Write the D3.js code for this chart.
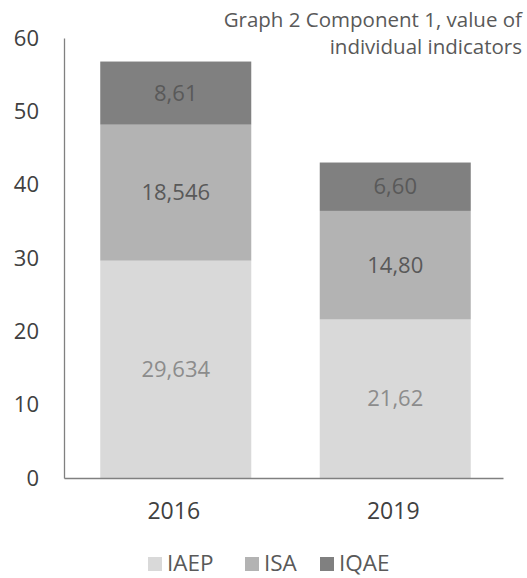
<!DOCTYPE html>
<html>
<head>
<meta charset="utf-8">
<script src="https://cdn.jsdelivr.net/npm/d3@7"></script>
<style>
  body { margin: 0; background: #fff; }
  text { font-family: "Open Sans", sans-serif; }
</style>
</head>
<body>
<div id="chart"></div>
<script>
// data
const years = ["2016", "2019"];
const series = ["IAEP", "ISA", "IQAE"];
const iaep = [29.634, 21.62];
const isa = [18.546, 14.80];
const iqae = [8.61, 6.60];
// labels as printed on the bars
const iaepLabels = ["29,634", "21,62"];
const isaLabels = ["18,546", "14,80"];
const iqaeLabels = ["8,61", "6,60"];
const yTicks = [0, 10, 20, 30, 40, 50, 60];
const titleLines = ["Graph 2 Component 1, value of", "individual indicators"];

const W = 527, H = 578;
const margin = {top: 38, right: 24, bottom: 100, left: 64};
const width = W - margin.left - margin.right,
      height = H - margin.top - margin.bottom;
const fs = 22;

const svg = d3.select("#chart")
  .append("svg")
    .attr("width", W)
    .attr("height", H)
  .append("g")
    .attr("transform", `translate(${margin.left},${margin.top})`);

const color = d3.scaleOrdinal()
  .domain(series)
  .range(["#d9d9d9", "#b3b3b3", "#808080"]);
const labelColor = {IAEP: "#8c8c8c", ISA: "#595959", IQAE: "#595959"};

const rows = years.map((yr, i) => ({year: yr, IAEP: iaep[i], ISA: isa[i], IQAE: iqae[i]}));
const labels = {IAEP: iaepLabels, ISA: isaLabels, IQAE: iqaeLabels};

const stacked = d3.stack().keys(series)(rows);

const x = d3.scaleBand()
  .domain(years)
  .range([0, width])
  .paddingInner(0.312)
  .paddingOuter(0.156);

const y = d3.scaleLinear()
  .domain([0, 60])
  .range([height, 0]);

// bars
const layer = svg.append("g")
  .selectAll("g")
  .data(stacked)
  .join("g")
    .attr("fill", d => color(d.key));

layer.selectAll("rect")
  .data(d => d)
  .join("rect")
    .attr("x", d => x(d.data.year) + 2)
    .attr("y", d => y(d[1]))
    .attr("height", d => y(d[0]) - y(d[1]))
    .attr("width", x.bandwidth());

// value labels
stacked.forEach(s => {
  svg.append("g")
    .selectAll("text")
    .data(s)
    .join("text")
      .attr("x", d => x(d.data.year) + 2 + x.bandwidth() / 2)
      .attr("y", d => (y(d[0]) + y(d[1])) / 2)
      .attr("dy", "0.35em")
      .attr("text-anchor", "middle")
      .attr("font-size", fs)
      .attr("fill", labelColor[s.key])
      .text((d, i) => labels[s.key][i]);
});

// axes
const yAxis = svg.append("g")
  .call(d3.axisLeft(y).tickValues(yTicks).tickSize(0).tickPadding(25));
yAxis.select(".domain").attr("stroke", "#808080").attr("stroke-width", 1.3);
yAxis.selectAll("text").attr("font-size", fs).attr("fill", "#404040")
  .attr("font-family", "Open Sans, sans-serif");

const xAxis = svg.append("g")
  .attr("transform", `translate(0,${height})`)
  .call(d3.axisBottom(x).tickSize(0).tickPadding(25));
xAxis.select(".domain").attr("stroke", "#808080").attr("stroke-width", 1.3);
xAxis.selectAll("text").attr("font-size", 23).attr("fill", "#404040")
  .attr("font-family", "Open Sans, sans-serif");

// title, top right
svg.append("g")
  .selectAll("text")
  .data(titleLines)
  .join("text")
    .attr("x", W - margin.left - 5)
    .attr("y", (d, i) => -11 + i * 27)
    .attr("text-anchor", "end")
    .attr("font-size", 20.5)
    .attr("fill", "#595959")
    .text(d => d);

// legend
const legendX = [148, 245, 320];
const legend = d3.select("svg").append("g")
  .attr("transform", `translate(0,${H - 7})`);
const item = legend.selectAll("g")
  .data(series)
  .join("g")
    .attr("transform", (d, i) => `translate(${legendX[i]},0)`);
item.append("rect")
  .attr("y", -14)
  .attr("width", 14)
  .attr("height", 14)
  .attr("fill", d => color(d));
item.append("text")
  .attr("x", 19)
  .attr("font-size", 22.5)
  .attr("fill", "#595959")
  .text(d => d);
</script>
</body>
</html>
